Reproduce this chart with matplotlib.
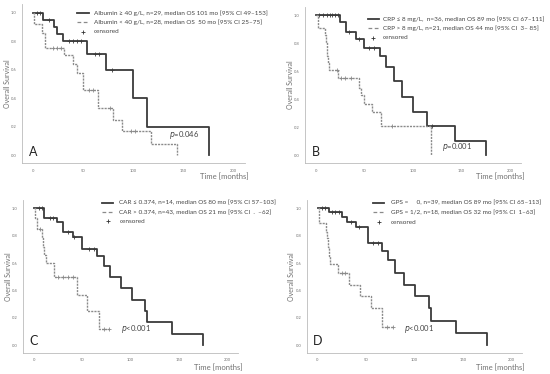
import numpy as np
import matplotlib.pyplot as plt

plt.rcParams['font.family'] = ['Lato', 'DejaVu Sans']

# ---- data ----
# panel A: albumin
a_hi_t = [10, 21, 24, 30, 54, 73, 100, 114, 175]
a_hi_s = [0.95, 0.90, 0.85, 0.80, 0.71, 0.60, 0.40, 0.20, 0.0]
a_hi_c = [4, 7, 16, 36, 40, 44, 48, 62, 66, 79]
a_lo_t = [1, 9, 12, 31, 40, 44, 50, 65, 80, 89, 118, 143]
a_lo_s = [0.92, 0.86, 0.75, 0.70, 0.64, 0.58, 0.46, 0.33, 0.25, 0.17, 0.08, 0.0]
a_lo_c = [20, 24, 28, 56, 60, 77, 98, 102]

# panel B: CRP
b_lo_t = [25, 31, 41, 49, 66, 72, 80, 89, 100, 114, 143, 175]
b_lo_s = [0.95, 0.88, 0.83, 0.77, 0.71, 0.63, 0.53, 0.42, 0.31, 0.21, 0.10, 0.0]
b_lo_c = [3, 7, 11, 14, 17, 20, 23, 34, 44, 55, 60, 120]
b_hi_t = [2, 9, 10, 11, 12, 13, 23, 44, 46, 49, 58, 67, 118]
b_hi_s = [0.91, 0.86, 0.81, 0.71, 0.66, 0.61, 0.55, 0.48, 0.43, 0.37, 0.31, 0.21, 0.0]
b_hi_c = [22, 26, 30, 36, 78]

# panel C: CAR
c_lo_t = [11, 24, 30, 40, 50, 65, 72, 79, 90, 101, 115, 117, 143, 175]
c_lo_s = [0.93, 0.90, 0.83, 0.79, 0.70, 0.65, 0.58, 0.50, 0.42, 0.33, 0.25, 0.17, 0.08, 0.0]
c_lo_c = [5, 8, 17, 20, 35, 42, 57, 62]
c_hi_t = [1, 3, 9, 10, 11, 13, 21, 45, 55, 67]
c_hi_s = [0.93, 0.85, 0.78, 0.72, 0.66, 0.60, 0.50, 0.37, 0.25, 0.12]
c_hi_c = [6, 25, 30, 35, 40, 72, 78]
c_hi_end = 78

# panel D: GPS
d_0_t = [12, 25, 30, 40, 52, 67, 73, 80, 89, 101, 115, 117, 143, 175]
d_0_s = [0.97, 0.94, 0.90, 0.86, 0.75, 0.69, 0.62, 0.53, 0.44, 0.36, 0.27, 0.18, 0.09, 0.0]
d_0_c = [5, 8, 15, 18, 22, 35, 43, 57, 62]
d_12_t = [1, 2, 9, 10, 11, 12, 13, 21, 32, 44, 55, 67]
d_12_s = [0.94, 0.89, 0.83, 0.78, 0.72, 0.65, 0.59, 0.53, 0.44, 0.36, 0.27, 0.13]
d_12_c = [25, 28, 72, 78]
d_12_end = 78

panels = [
    dict(letter='A', pval='=0.046', pxy=(136, 0.14),
         labels=['Albumin \u2265 40 g/L, n=29, median OS 101 mo [95% CI 49\u2013153]',
                 'Albumin < 40 g/L, n=28, median OS  50 mo [95% CI 25\u201375]'],
         solid=(a_hi_t, a_hi_s, a_hi_c, None), dashed=(a_lo_t, a_lo_s, a_lo_c, None)),
    dict(letter='B', pval='=0.001', pxy=(130, 0.06),
         labels=['CRP \u2264 8 mg/L,  n=36, median OS 89 mo [95% CI 67\u2013111]',
                 'CRP > 8 mg/L, n=21, median OS 44 mo [95% CI  3\u2013 85]'],
         solid=(b_lo_t, b_lo_s, b_lo_c, None), dashed=(b_hi_t, b_hi_s, b_hi_c, None)),
    dict(letter='C', pval='<0.001', pxy=(90, 0.115),
         labels=['CAR \u2264 0.374, n=14, median OS 80 mo [95% CI 57\u2013103]',
                 'CAR > 0.374, n=43, median OS 21 mo [95% CI  .  \u201362]'],
         solid=(c_lo_t, c_lo_s, c_lo_c, None), dashed=(c_hi_t, c_hi_s, c_hi_c, c_hi_end)),
    dict(letter='D', pval='<0.001', pxy=(89, 0.115),
         labels=['GPS =     0, n=39, median OS 89 mo [95% CI 65\u2013113]',
                 'GPS = 1/2, n=18, median OS 32 mo [95% CI  1\u201363]'],
         solid=(d_0_t, d_0_s, d_0_c, None), dashed=(d_12_t, d_12_s, d_12_c, d_12_end)),
]

rects = [
    [0.040, 0.564, 0.405, 0.425],
    [0.555, 0.564, 0.392, 0.417],
    [0.042, 0.057, 0.391, 0.408],
    [0.558, 0.057, 0.391, 0.408],
]
# legend layout per panel: line start, line end, text x, row y's
legs = [
    (0.246, 0.30, 0.323, [0.942, 0.886, 0.826]),
    (0.29, 0.34, 0.36, [0.925, 0.868, 0.804]),
    (0.366, 0.42, 0.448, [0.982, 0.921, 0.86]),
    (0.309, 0.36, 0.39, [0.982, 0.921, 0.855]),
]
time_lab = [(0.91, -0.085), (0.905, -0.085), (0.907, -0.095), (0.90, -0.10)]

solid_col = '#3a3a3a'
dash_col = '#8a8a8a'
grey = '#707070'


def km(ax, t, s, c, end, color, ls, lw):
    t = list(t)
    s = list(s)
    x = [0] + t
    y = [1.0] + s
    if end is not None:
        x.append(end)
        y.append(s[-1])
    ax.plot(x, y, drawstyle='steps-post', color=color, ls=ls, lw=lw)
    tt = np.array(x)
    yy = np.array(y)
    cy = yy[np.searchsorted(tt, c, side='right') - 1]
    ax.plot(c, cy, '+', color=color, ms=2.5, mew=0.6)


fig = plt.figure(figsize=(5.5, 3.74), dpi=100)
for p, r, lg, tl in zip(panels, rects, legs, time_lab):
    ax = fig.add_axes(r)
    km(ax, *p['solid'], solid_col, '-', 1.3)
    km(ax, *p['dashed'], dash_col, (0, (1.5, 0.8)), 1.0)
    ax.set_xlim(-11, 211)
    ax.set_ylim(-0.055, 1.06)
    ax.set_xticks([0, 50, 100, 150, 200])
    ax.set_yticks([0, 0.2, 0.4, 0.6, 0.8, 1.0])
    ax.set_yticklabels(['0.0', '0.2', '0.4', '0.6', '0.8', '1.0'])
    ax.tick_params(labelsize=3, colors=grey, length=0, pad=4)
    for sp in ['top', 'right']:
        ax.spines[sp].set_visible(False)
    for sp in ['left', 'bottom']:
        ax.spines[sp].set_color('#bbbbbb')
        ax.spines[sp].set_linewidth(0.6)
    ax.set_ylabel('Overall Survival', fontsize=5, color=grey, labelpad=0)
    ax.text(tl[0], tl[1], 'Time [months]', transform=ax.transAxes,
            fontsize=5.5, color=grey, ha='center', va='center')
    ax.text(0.03, 0.035, p['letter'], transform=ax.transAxes,
            fontsize=9, color='#222222', ha='left', va='bottom')
    ax.text(p['pxy'][0], p['pxy'][1], '$p$' + p['pval'], fontsize=5.5,
            color='#444444', ha='left', va='center')
    # legend
    x0, x1, xt, ys = lg
    ax.plot([x0, x1], [ys[0], ys[0]], transform=ax.transAxes,
            color=solid_col, lw=1.3, clip_on=False)
    ax.plot([x0, x1], [ys[1], ys[1]], transform=ax.transAxes,
            color=dash_col, lw=0.9, ls=(0, (3, 2)), clip_on=False)
    ax.plot([(x0 + x1) / 2], [ys[2]], '+', transform=ax.transAxes,
            color='#333333', ms=3, mew=0.6, clip_on=False)
    for yv, txt in zip(ys, p['labels'] + ['censored']):
        ax.text(xt, yv, txt, transform=ax.transAxes, fontsize=4.6,
                color='#444444', ha='left', va='center')

fig.savefig('out.png', dpi=100)
